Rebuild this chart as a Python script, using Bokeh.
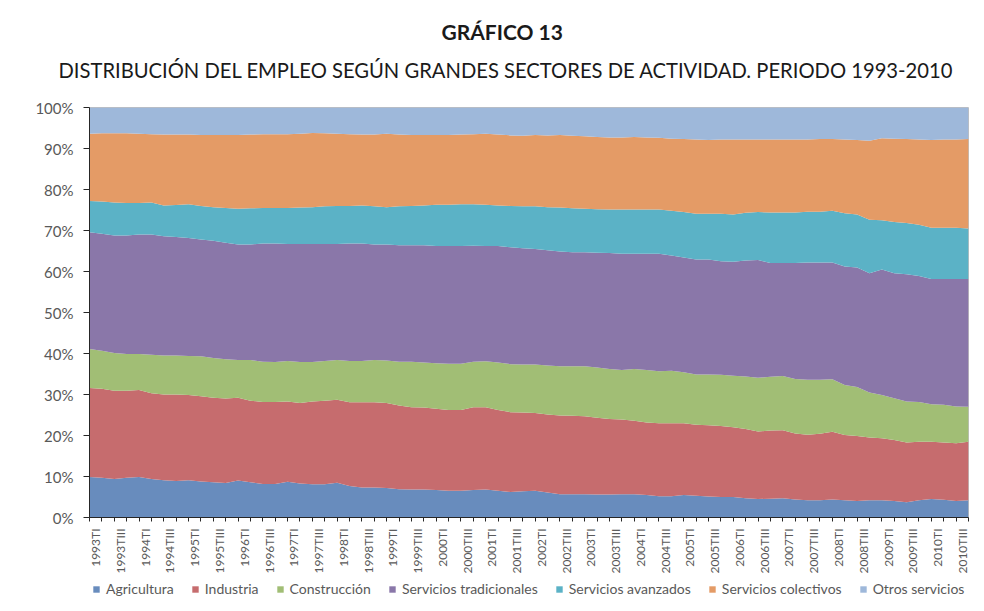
import math
from bokeh.plotting import figure
from bokeh.layouts import column
from bokeh.models import (ColumnDataSource, Range1d, FixedTicker, Legend, LegendItem, Title)
from bokeh.embed import file_html
from bokeh.resources import INLINE

FONT = "Lato"

# quarters 1993TI .. 2010TIV
years = list(range(1993, 2011))
quarter_names = ["I", "II", "III", "IV"]
quarters = [f"{y}T{q}" for y in years for q in quarter_names]

series_names = ["Agricultura", "Industria", "Construcción", "Servicios tradicionales",
                "Servicios avanzados", "Servicios colectivos", "Otros servicios"]
colors = ["#688CBD", "#C66C6E", "#A1BE75", "#8A77A9", "#5BB2C6", "#E49B66", "#9EB8DA"]

agricultura = [9.9, 9.7, 9.4, 9.7, 9.9, 9.4, 9.1, 8.9, 9.1, 8.8, 8.6, 8.4, 9.0, 8.6, 8.2, 8.2,
               8.7, 8.3, 8.1, 8.1, 8.5, 7.7, 7.3, 7.3, 7.2, 6.9, 6.8, 6.8, 6.7, 6.5, 6.5, 6.7,
               6.8, 6.5, 6.2, 6.4, 6.5, 6.1, 5.7, 5.7, 5.7, 5.6, 5.6, 5.7, 5.7, 5.5, 5.2, 5.2,
               5.5, 5.3, 5.1, 5.0, 5.0, 4.7, 4.5, 4.6, 4.7, 4.4, 4.2, 4.2, 4.4, 4.2, 4.0, 4.2,
               4.2, 4.0, 3.7, 4.2, 4.5, 4.3, 4.0, 4.2]
industria = [21.7, 21.7, 21.5, 21.2, 21.2, 20.9, 20.9, 21.1, 20.8, 20.8, 20.6, 20.6, 20.2, 19.9,
             20.0, 20.0, 19.6, 19.6, 20.2, 20.4, 20.2, 20.4, 20.8, 20.8, 20.7, 20.4, 20.1, 20.0,
             19.8, 19.7, 19.7, 20.2, 20.1, 19.7, 19.5, 19.2, 19.0, 19.0, 19.2, 19.1, 19.0, 18.7,
             18.4, 18.2, 17.9, 17.7, 17.8, 17.8, 17.5, 17.3, 17.4, 17.3, 17.0, 16.9, 16.5, 16.6,
             16.6, 16.1, 16.0, 16.2, 16.5, 15.9, 15.9, 15.3, 15.1, 14.9, 14.6, 14.3, 14.0, 14.0,
             14.1, 14.3]
construccion = [9.5, 9.3, 9.2, 9.0, 8.8, 9.4, 9.5, 9.5, 9.5, 9.7, 9.7, 9.6, 9.2, 9.9, 9.8, 9.7,
                9.9, 10.0, 9.6, 9.7, 9.7, 10.1, 10.1, 10.3, 10.4, 10.7, 11.1, 11.0, 11.1, 11.3,
                11.3, 11.1, 11.2, 11.6, 11.7, 11.7, 11.8, 12.0, 12.0, 12.1, 12.2, 12.3, 12.2,
                12.1, 12.6, 12.8, 12.7, 12.8, 12.4, 12.3, 12.4, 12.5, 12.6, 12.8, 13.1, 13.1,
                13.2, 13.3, 13.4, 13.2, 12.8, 12.2, 11.9, 11.0, 10.6, 10.2, 10.0, 9.7, 9.1, 9.2,
                9.0, 8.5]
tradicionales = [28.5, 28.5, 28.7, 28.9, 29.1, 29.3, 29.1, 28.9, 28.8, 28.5, 28.6, 28.4, 28.2,
                 28.2, 28.8, 28.9, 28.5, 28.8, 28.8, 28.5, 28.3, 28.6, 28.6, 28.2, 28.3, 28.4,
                 28.4, 28.6, 28.6, 28.7, 28.7, 28.3, 28.1, 28.4, 28.5, 28.4, 28.2, 28.1, 28.0,
                 27.8, 27.8, 28.0, 28.3, 28.3, 28.1, 28.3, 28.6, 28.1, 28.0, 28.0, 28.0, 27.7,
                 27.8, 28.3, 28.7, 27.8, 27.6, 28.3, 28.6, 28.6, 28.5, 28.9, 29.2, 29.1, 30.6,
                 30.5, 31.0, 30.7, 30.6, 30.7, 31.1, 31.2]
avanzados = [7.6, 7.9, 8.0, 7.9, 7.7, 7.8, 7.5, 7.8, 8.2, 8.2, 8.2, 8.5, 8.7, 8.8, 8.7, 8.7,
             8.8, 8.9, 9.0, 9.2, 9.3, 9.2, 9.3, 9.3, 9.1, 9.5, 9.6, 9.7, 10.1, 10.1, 10.2, 10.1,
             10.1, 9.9, 10.1, 10.2, 10.4, 10.5, 10.7, 10.7, 10.6, 10.6, 10.6, 10.8, 10.8, 10.8,
             10.8, 10.9, 11.1, 11.2, 11.2, 11.6, 11.5, 11.6, 11.7, 12.3, 12.3, 12.3, 12.4, 12.4,
             12.6, 13.0, 12.9, 13.0, 12.0, 12.5, 12.5, 12.5, 12.5, 12.5, 12.5, 12.3]
colectivos = [16.4, 16.6, 16.9, 17.0, 16.9, 16.7, 17.3, 17.2, 17.0, 17.3, 17.6, 17.8, 18.0, 18.0,
              18.0, 18.0, 18.0, 18.0, 18.1, 17.8, 17.6, 17.5, 17.3, 17.5, 17.9, 17.5, 17.3, 17.2,
              17.0, 17.0, 17.0, 17.1, 17.3, 17.3, 17.2, 17.2, 17.4, 17.5, 17.7, 17.7, 17.7, 17.6,
              17.6, 17.6, 17.7, 17.6, 17.5, 17.6, 17.8, 18.1, 18.0, 18.1, 18.3, 17.9, 17.7, 17.8,
              17.8, 17.8, 17.6, 17.7, 17.5, 18.0, 18.2, 19.3, 20.0, 20.3, 20.5, 20.8, 21.4, 21.5,
              21.5, 21.8]
otros = [6.4, 6.3, 6.3, 6.3, 6.4, 6.5, 6.6, 6.6, 6.6, 6.7, 6.7, 6.7, 6.7, 6.6, 6.5, 6.5, 6.5,
         6.4, 6.2, 6.3, 6.4, 6.5, 6.6, 6.6, 6.4, 6.6, 6.7, 6.7, 6.7, 6.7, 6.6, 6.5, 6.4, 6.6,
         6.8, 6.9, 6.7, 6.8, 6.7, 6.9, 7.0, 7.2, 7.3, 7.3, 7.2, 7.3, 7.4, 7.6, 7.7, 7.8, 7.9,
         7.8, 7.8, 7.8, 7.8, 7.8, 7.8, 7.8, 7.8, 7.7, 7.7, 7.8, 7.9, 8.1, 7.5, 7.6, 7.7, 7.8,
         7.9, 7.8, 7.8, 7.7]

y_ticks = [0, 10, 20, 30, 40, 50, 60, 70, 80, 90, 100]

keys = ["agri", "ind", "cons", "trad", "avan", "cole", "otro"]
data = dict(x=list(range(len(quarters))))
for k, s in zip(keys, [agricultura, industria, construccion, tradicionales, avanzados,
                       colectivos, otros]):
    data[k] = s
source = ColumnDataSource(data)

n = len(quarters)
p = figure(width=984, height=580, x_range=Range1d(0, n - 1), y_range=Range1d(0, 100),
           output_backend="svg", toolbar_location=None, title=None,
           min_border_left=89, min_border_right=16, min_border_top=107, min_border_bottom=63)
p.background_fill_color = "white"
p.border_fill_color = "white"
p.outline_line_color = "#BFBFBF"
p.grid.visible = False

p.varea_stack(stackers=keys, x="x", color=colors, source=source)

# titles (left aligned, shifted so that they are centred where the original sits)
sub = Title(text="DISTRIBUCIÓN DEL EMPLEO SEGÚN GRANDES SECTORES DE ACTIVIDAD. PERIODO 1993-2010",
            align="left", text_font=FONT, text_font_size="20.2px", text_font_style="normal",
            text_color="#1a1a1a", offset=-31, standoff=51)
main = Title(text="GRÁFICO 13", align="left", text_font=FONT, text_font_size="21px",
             text_font_style="bold", text_color="#1a1a1a", offset=352, standoff=-26)
p.add_layout(sub, "above")
p.add_layout(main, "above")

# y axis
p.yaxis.ticker = FixedTicker(ticks=y_ticks)
p.yaxis.major_label_overrides = {t: f"{t}%" for t in y_ticks}
p.yaxis.major_label_text_font = FONT
p.yaxis.major_label_text_font_size = "15px"
p.yaxis.major_label_text_color = "#595959"
p.yaxis.axis_line_color = "#262626"
p.yaxis.major_tick_line_color = "#262626"
p.yaxis.major_tick_in = 0
p.yaxis.major_tick_out = 6
p.yaxis.major_label_standoff = 10
p.yaxis.minor_tick_line_color = None

# x axis: tick marks at every quarter, labels centred in every other quarter
label_pos = [i + 0.5 for i in range(0, n - 1, 2)]
p.xaxis.ticker = FixedTicker(ticks=label_pos, minor_ticks=list(range(n)))
p.xaxis.major_label_overrides = {i + 0.5: quarters[i] for i in range(0, n - 1, 2)}
p.xaxis.major_label_orientation = math.pi / 2
p.xaxis.major_label_text_font = FONT
p.xaxis.major_label_text_font_size = "12px"
p.xaxis.major_label_text_color = "#595959"
p.xaxis.axis_line_color = "#262626"
p.xaxis.major_tick_line_color = None
p.xaxis.minor_tick_line_color = "#262626"
p.xaxis.major_tick_in = 0
p.xaxis.major_tick_out = 4
p.xaxis.minor_tick_in = 0
p.xaxis.minor_tick_out = 4
p.xaxis.major_label_standoff = 7

# legend strip below the chart (its own plot area is kept out of view)
lg = figure(width=984, height=31, x_range=Range1d(0, n - 1), y_range=Range1d(200, 300),
            output_backend="svg", toolbar_location=None, title=None,
            x_axis_location=None, y_axis_location=None,
            min_border_left=0, min_border_right=0, min_border_top=0, min_border_bottom=0)
lg.outline_line_color = None
lg.grid.visible = False
lg.border_fill_color = "white"
lg.background_fill_color = "white"
swatches = lg.varea_stack(stackers=keys, x="x", color=colors, source=source)
items = [LegendItem(label=nm, renderers=[r]) for nm, r in zip(series_names, swatches)]
legend = Legend(items=items, orientation="horizontal", location=(3, 14),
                label_text_font=FONT, label_text_font_size="14px", label_text_color="#595959",
                glyph_width=8, glyph_height=8, spacing=17, label_standoff=6,
                border_line_color=None, background_fill_alpha=0, padding=0, margin=0)
lg.add_layout(legend)

layout = column(p, lg, spacing=0)
open("out.html", "w").write(file_html(layout, INLINE))
